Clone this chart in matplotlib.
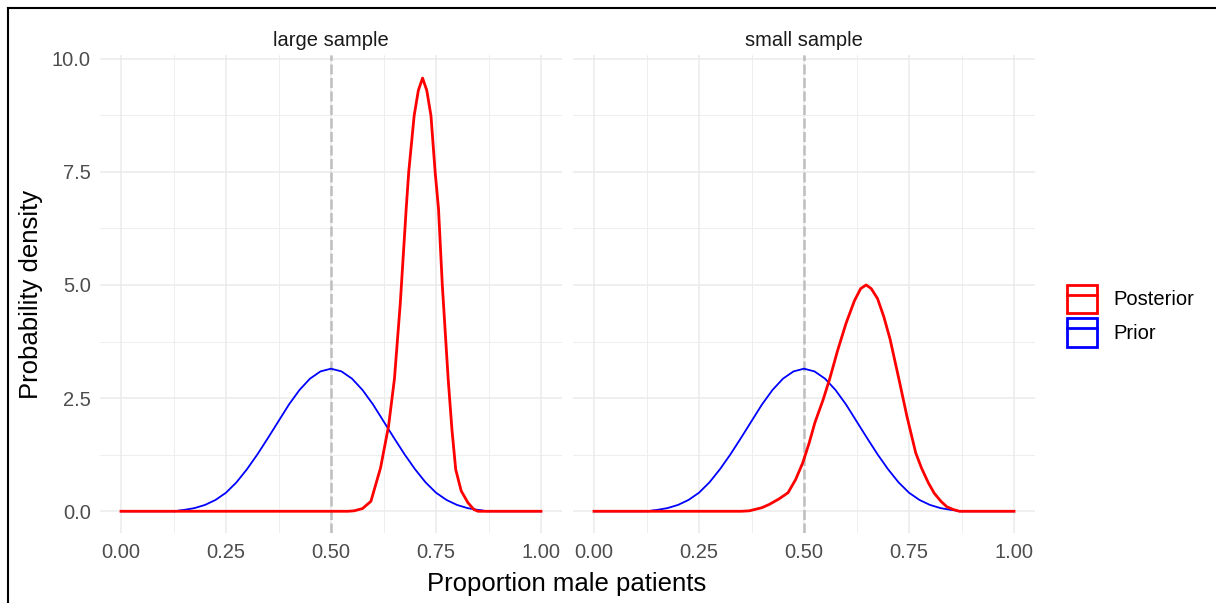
import matplotlib.pyplot as plt
from matplotlib.lines import Line2D
from matplotlib.patches import Patch

plt.rcParams.update(
    {
        "font.family": ["Liberation Sans", "DejaVu Sans"],
        "font.size": 14.5,
    }
)

# ---------------------------
# Data
# ---------------------------
panels = ["large sample", "small sample"]
series = ["Posterior", "Prior"]

# prior: same curve in both panels
prior_x = [0.0, 0.13, 0.14, 0.15, 0.175, 0.2, 0.225, 0.25, 0.275, 0.3, 0.325,
           0.35, 0.375, 0.4, 0.425, 0.45, 0.475, 0.5, 0.525, 0.55, 0.575, 0.6,
           0.625, 0.65, 0.675, 0.7, 0.725, 0.75, 0.775, 0.8, 0.825, 0.85,
           0.86, 0.87, 1.0]
prior_y = [0.0, 0.0, 0.02, 0.03, 0.07, 0.14, 0.25, 0.41, 0.64, 0.93, 1.26,
           1.62, 1.99, 2.36, 2.68, 2.93, 3.09, 3.15, 3.09, 2.93, 2.68, 2.36,
           1.99, 1.62, 1.26, 0.93, 0.64, 0.41, 0.25, 0.14, 0.07, 0.03,
           0.02, 0.0, 0.0]

# posterior, large sample
post_large_x = [0.0, 0.54, 0.555, 0.575, 0.595, 0.618, 0.637, 0.651, 0.665,
                0.679, 0.685, 0.698, 0.708, 0.718, 0.728, 0.738, 0.748, 0.756,
                0.765, 0.779, 0.788, 0.797, 0.81, 0.826, 0.84, 0.85, 1.0]
post_large_y = [0.0, 0.0, 0.01, 0.06, 0.22, 0.96, 1.88, 2.92, 4.6,
                6.68, 7.49, 8.74, 9.3, 9.57, 9.3, 8.74, 7.49, 6.68,
                5.0, 2.92, 1.8, 0.92, 0.45, 0.19, 0.04, 0.0, 0.0]

# posterior, small sample
post_small_x = [0.0, 0.35, 0.37, 0.4, 0.417, 0.44, 0.462, 0.48, 0.497, 0.512,
                0.526, 0.545, 0.561, 0.58, 0.6, 0.62, 0.635, 0.648, 0.66,
                0.675, 0.69, 0.705, 0.726, 0.745, 0.766, 0.78, 0.796, 0.81,
                0.826, 0.84, 0.855, 0.87, 1.0]
post_small_y = [0.0, 0.0, 0.01, 0.08, 0.15, 0.27, 0.41, 0.7, 1.07, 1.5,
                1.96, 2.45, 2.92, 3.55, 4.15, 4.65, 4.92, 5.0, 4.92,
                4.7, 4.3, 3.8, 2.92, 2.1, 1.29, 0.95, 0.63, 0.4,
                0.22, 0.1, 0.04, 0.0, 0.0]

posteriors = [(post_large_x, post_large_y), (post_small_x, post_small_y)]
x_ticks = [0.0, 0.25, 0.5, 0.75, 1.0]
y_ticks = [0.0, 2.5, 5.0, 7.5, 10.0]
ref_line = 0.5

# ---------------------------
# Layout (pixels of a 1216x603 canvas)
# ---------------------------
W, H = 1216, 603
fig = plt.figure(figsize=(W / 100, H / 100), dpi=100)

grid_col = "#EBEBEB"
tick_col = "#4D4D4D"

for i, name in enumerate(panels):
    left = [100, 573][i]
    ax = fig.add_axes([left / W, (H - 533) / H, 462 / W, (533 - 55) / H])
    ax.set_xlim(-0.05, 1.05)
    ax.set_ylim(-0.48, 10.08)

    ax.set_xticks(x_ticks)
    ax.set_xticklabels(["%.2f" % v for v in x_ticks])
    ax.set_xticks([0.125, 0.375, 0.625, 0.875], minor=True)
    ax.set_yticks(y_ticks)
    ax.set_yticks([1.25, 3.75, 6.25, 8.75], minor=True)
    if i == 0:
        ax.set_yticklabels(["%.1f" % v for v in y_ticks])
    else:
        ax.set_yticklabels([])

    ax.grid(which="major", color=grid_col, lw=1.1)
    ax.grid(which="minor", color=grid_col, lw=0.6)
    ax.set_axisbelow(True)
    for s in ax.spines.values():
        s.set_visible(False)
    ax.tick_params(which="both", length=0, colors=tick_col, labelsize=14.5)
    ax.tick_params(axis="x", pad=7)
    ax.tick_params(axis="y", pad=6.5)

    ax.axvline(ref_line, color="#BEBEBE", lw=1.8, dashes=(4, 1.4))
    ax.plot(prior_x, prior_y, color="blue", lw=1.3)
    px, py = posteriors[i]
    ax.plot(px, py, color="red", lw=2.0)

    fig.text((left + 231) / W, 1 - 46.5 / H, name, ha="center", va="baseline",
             color="#1A1A1A", fontsize=14.5)

fig.text(567 / W, 1 - 591 / H, "Proportion male patients", ha="center",
         va="baseline", fontsize=18.5)
fig.text(31 / W, 1 - 294 / H, "Probability density", ha="center", va="center",
         rotation=90, fontsize=18.5)

# legend: outlined key boxes like ggplot
handles = [
    (Patch(facecolor="white", edgecolor="red", lw=2.0),
     Line2D([], [], color="red", lw=2.0)),
    (Patch(facecolor="white", edgecolor="blue", lw=2.0),
     Line2D([], [], color="blue", lw=2.0)),
]
fig.legend(handles, series, loc="upper left",
           bbox_to_anchor=(1067 / W, 1 - 284.5 / H), frameon=False,
           borderpad=0, borderaxespad=0, handlelength=1.49, handleheight=1.8,
           labelspacing=0.25, handletextpad=0.8, fontsize=14.5)

# screenshot frame (left and top edges)
fig.add_artist(Line2D([7.5 / W, 7.5 / W], [0, 1 - 8 / H], color="black",
                      lw=1.5, transform=fig.transFigure))
fig.add_artist(Line2D([7.5 / W, 1], [1 - 8 / H, 1 - 8 / H], color="black",
                      lw=1.5, transform=fig.transFigure))

plt.savefig("out.png", dpi=100)
